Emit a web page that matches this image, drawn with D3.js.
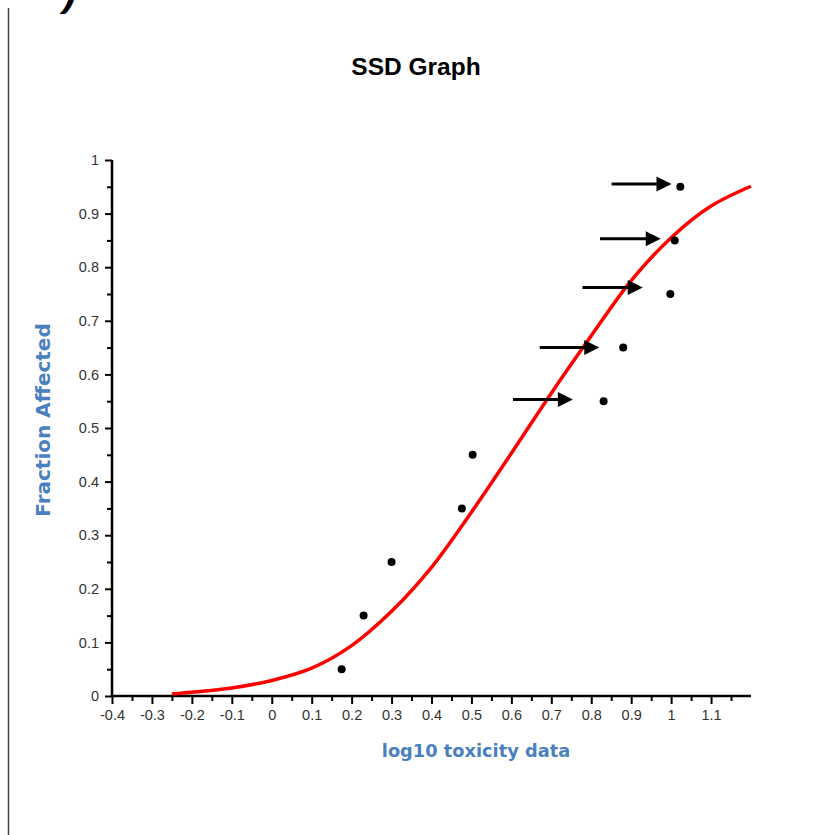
<!DOCTYPE html>
<html>
<head>
<meta charset="utf-8">
<script src="https://cdn.jsdelivr.net/npm/d3@7"></script>
<style>
  body { margin: 0; background: #fff; }
  svg { display: block; }
  .tick text { font-family: "Liberation Sans Narrow", "Liberation Sans", Arial, sans-serif; font-size: 14.5px; fill: #333; }
</style>
</head>
<body>
<svg id="chart" width="835" height="835"></svg>
<script>
// tick values and labels
var xTicks = [-0.4, -0.3, -0.2, -0.1, 0, 0.1, 0.2, 0.3, 0.4, 0.5, 0.6, 0.7, 0.8, 0.9, 1, 1.1];
var xTickLabels = ["-0.4", "-0.3", "-0.2", "-0.1", "0", "0.1", "0.2", "0.3", "0.4", "0.5", "0.6", "0.7", "0.8", "0.9", "1", "1.1"];
var xMinor = [-0.35, -0.25, -0.15, -0.05, 0.05, 0.15, 0.25, 0.35, 0.45, 0.55, 0.65, 0.75, 0.85, 0.95, 1.05, 1.15];
var yTicks = [0, 0.1, 0.2, 0.3, 0.4, 0.5, 0.6, 0.7, 0.8, 0.9, 1];
var yTickLabels = ["0", "0.1", "0.2", "0.3", "0.4", "0.5", "0.6", "0.7", "0.8", "0.9", "1"];
var yMinor = [0.05, 0.15, 0.25, 0.35, 0.45, 0.55, 0.65, 0.75, 0.85, 0.95];

// observed toxicity points
var pointX = [0.175, 0.23, 0.30, 0.476, 0.503, 0.831, 0.880, 0.998, 1.009, 1.023];
var pointY = [0.05, 0.15, 0.25, 0.35, 0.45, 0.55, 0.65, 0.75, 0.85, 0.95];

// fitted SSD curve
var curveX = [-0.25, -0.2, -0.1, 0, 0.1, 0.2, 0.3, 0.4, 0.5, 0.6, 0.7, 0.8, 0.9, 1.0, 1.1, 1.2];
var curveY = [0.004, 0.007, 0.015, 0.029, 0.052, 0.094, 0.158, 0.24, 0.343, 0.453, 0.565, 0.672, 0.775, 0.855, 0.914, 0.951];

// arrows (from, to, level)
var arrowFrom = [0.604, 0.671, 0.778, 0.822, 0.851];
var arrowTo = [0.754, 0.820, 0.929, 0.974, 1.001];
var arrowY = [0.553, 0.650, 0.762, 0.853, 0.955];

var svg = d3.select("#chart");

var x = d3.scaleLinear().domain([-0.4, 1.2]).range([112, 751]);
var y = d3.scaleLinear().domain([0, 1]).range([696, 160]);

// frame line on the left and the cut glyph at top
svg.append("line")
    .attr("x1", 8.5).attr("x2", 8.5)
    .attr("y1", 8).attr("y2", 835)
    .attr("stroke", "#444").attr("stroke-width", 1.5);

svg.append("text")
    .attr("x", 63).attr("y", 6)
    .style("font-family", "Liberation Sans, Arial, sans-serif")
    .style("font-weight", "bold").style("font-style", "italic")
    .style("font-size", "40px")
    .text(")");

svg.append("text")
    .attr("x", 416).attr("y", 75)
    .attr("text-anchor", "middle")
    .style("font-family", "Liberation Sans, Arial, sans-serif")
    .style("font-weight", "bold")
    .style("font-size", "24.5px")
    .text("SSD Graph");

// axes
var xAxis = d3.axisBottom(x).tickValues(xTicks).tickSize(8).tickPadding(6)
    .tickFormat(function(d, i) { return xTickLabels[i]; });
var xAxisMinor = d3.axisBottom(x).tickValues(xMinor).tickSize(5).tickFormat("");
var yAxis = d3.axisLeft(y).tickValues(yTicks).tickSize(7).tickPadding(6)
    .tickFormat(function(d, i) { return yTickLabels[i]; });
var yAxisMinor = d3.axisLeft(y).tickValues(yMinor).tickSize(5).tickFormat("");

function styleAxis(g) {
    g.select(".domain").remove();
    g.selectAll(".tick line").attr("stroke", "#000").attr("stroke-width", 2);
}

svg.append("g").attr("transform", "translate(0,696)").call(xAxisMinor).call(styleAxis);
svg.append("g").attr("transform", "translate(0,696)").call(xAxis).call(styleAxis);
svg.append("g").attr("transform", "translate(112,0)").call(yAxisMinor).call(styleAxis);
svg.append("g").attr("transform", "translate(112,0)").call(yAxis).call(styleAxis);

// axis lines running to the edge of the plot
svg.append("line")
    .attr("x1", x(-0.4)).attr("x2", x(1.2))
    .attr("y1", y(0)).attr("y2", y(0))
    .attr("stroke", "#000").attr("stroke-width", 2.5);
svg.append("line")
    .attr("x1", x(-0.4)).attr("x2", x(-0.4))
    .attr("y1", y(0) + 1).attr("y2", y(1))
    .attr("stroke", "#000").attr("stroke-width", 2.5);

// axis titles
svg.append("text")
    .attr("transform", "translate(50,420) rotate(-90)")
    .attr("text-anchor", "middle")
    .style("font-family", "DejaVu Sans, Verdana, sans-serif")
    .style("font-weight", "bold")
    .style("font-size", "20px")
    .style("fill", "#4a80c0")
    .text("Fraction Affected");

svg.append("text")
    .attr("x", 476).attr("y", 757)
    .attr("text-anchor", "middle")
    .style("font-family", "DejaVu Sans, Verdana, sans-serif")
    .style("font-weight", "bold")
    .style("font-size", "17.8px")
    .style("fill", "#4a80c0")
    .text("log10 toxicity data");

// curve
var curveData = curveX.map(function(d, i) { return [d, curveY[i]]; });
var line = d3.line()
    .x(function(d) { return x(d[0]); })
    .y(function(d) { return y(d[1]); })
    .curve(d3.curveCatmullRom.alpha(0.5));

svg.append("path")
    .datum(curveData)
    .attr("fill", "none")
    .attr("stroke", "#ff0000")
    .attr("stroke-width", 3.5)
    .attr("d", line);

// points
svg.append("g").selectAll("circle")
    .data(pointX)
    .enter().append("circle")
    .attr("cx", function(d) { return x(d); })
    .attr("cy", function(d, i) { return y(pointY[i]); })
    .attr("r", 4)
    .attr("fill", "#000");

// arrows
var arrows = svg.append("g").selectAll("g")
    .data(arrowFrom)
    .enter().append("g");

arrows.append("line")
    .attr("x1", function(d) { return x(d); })
    .attr("x2", function(d, i) { return x(arrowTo[i]) - 10; })
    .attr("y1", function(d, i) { return y(arrowY[i]); })
    .attr("y2", function(d, i) { return y(arrowY[i]); })
    .attr("stroke", "#000")
    .attr("stroke-width", 3);

arrows.append("path")
    .attr("d", function(d, i) {
        var tx = x(arrowTo[i]), ty = y(arrowY[i]);
        return "M" + tx + "," + ty + "L" + (tx - 15) + "," + (ty - 7.5) + "L" + (tx - 15) + "," + (ty + 7.5) + "Z";
    })
    .attr("fill", "#000");
</script>
</body>
</html>
